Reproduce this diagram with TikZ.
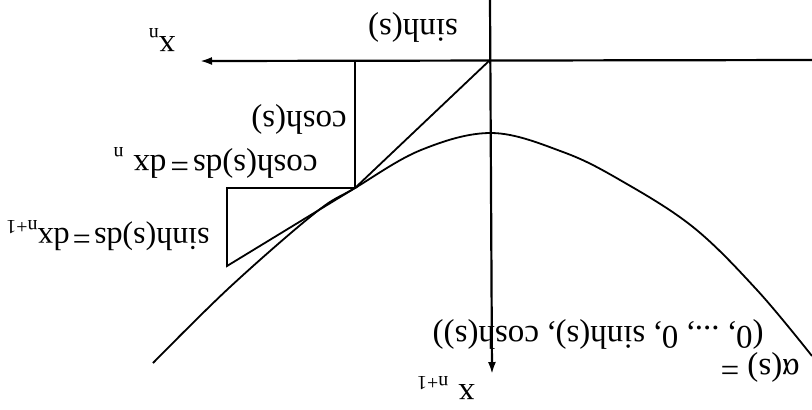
\documentclass[tikz,border=0pt]{standalone}
\usepackage{fontspec}
\setmainfont{Liberation Serif}
\usetikzlibrary{arrows.meta}

\newcommand{\tsub}[1]{\raisebox{-0.25em}{\fontsize{10}{11}\selectfont #1}}

\begin{document}
\begin{tikzpicture}[x=0.5pt, y=-0.5pt,
  lbl/.style={rotate=180, inner sep=0pt, font=\fontsize{16.5}{19}\selectfont},
  axis/.style={line width=1.1pt, -{Latex[length=6pt, width=4pt]}},
  seg/.style={line width=0.9pt}
]
\useasboundingbox (0,0) rectangle (812,409);
%% POINTS
\coordinate (O) at (490,60);
\coordinate (T) at (355,188);
\coordinate (P) at (355,60);
\coordinate (A) at (227,188);
\coordinate (B) at (227,266);
%% AXES
\coordinate (xs) at (812,60);
\coordinate (xe) at (200,61);
\coordinate (ys) at (490,0);
\coordinate (ye) at (492,374);
\draw[axis] (xs) -- (xe);
\draw[axis] (ys) -- (ye);
%% CURVE
\draw[seg] plot[smooth, tension=0.6] coordinates {(153,363) (230,287) (315,213) (355,188)
  (421,150) (492,133) (563,152) (620,180) (693,227) (757,290) (812,356)};
%% TRIANGLES
\draw[seg] (O) -- (T);
\draw[seg] (P) -- (T);
\draw[seg] (T) -- (A) -- (B) -- cycle;
%% LABELS
\node[lbl] (sh) at (413,27) {sinh(s)};
\node[lbl] (xn) at (162,40) {x\tsub{n}};
\node[lbl] (ch) at (299,119) {cosh(s)};
\node[lbl, anchor=west] (dxn) at (318,163) {cosh(s)ds\hspace{0.12em}=\hspace{0.12em}dx\hspace{0.3em}\tsub{n}};
\node[lbl, anchor=west, font=\fontsize{16}{19}\selectfont] (dxm) at (210,236)
  {sinh(s)ds\hspace{0.1em}=\hspace{0.1em}dx\tsub{n+1}};
\node[lbl, anchor=west] (al) at (800,367) {α(s) =};
\node[lbl, anchor=west] (ad) at (764,334) {(0, ..., 0, sinh(s), cosh(s))};
\node[lbl] (xm) at (446,388) {x\hspace{0.3em}\tsub{n+1}};
\end{tikzpicture}
\end{document}
